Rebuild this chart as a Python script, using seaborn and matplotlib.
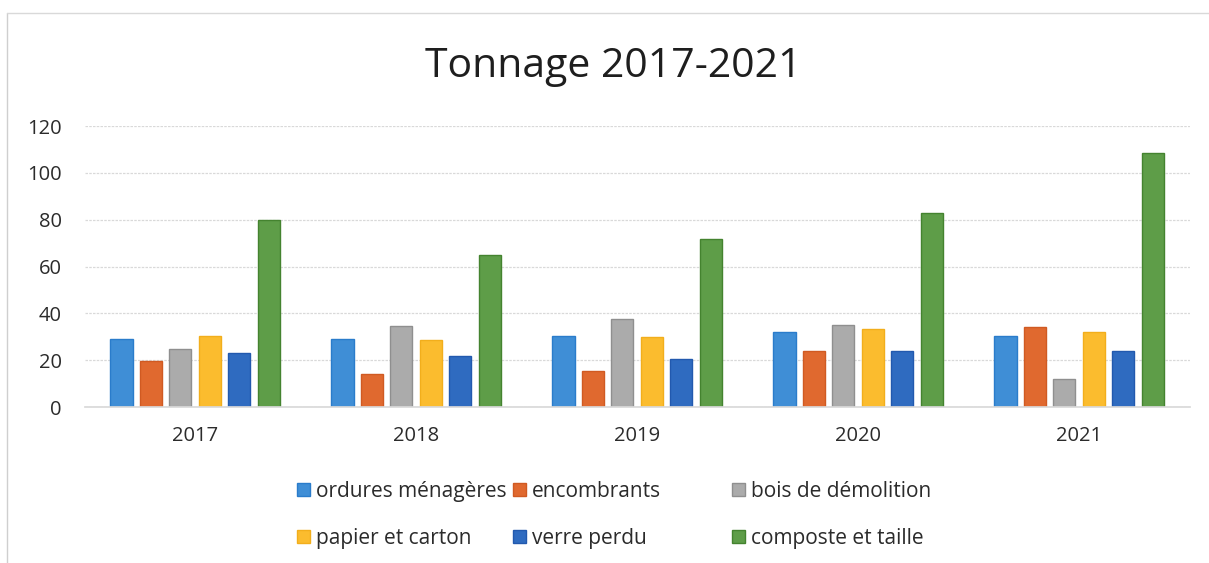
import matplotlib
matplotlib.use("Agg")
import matplotlib.pyplot as plt
import seaborn as sns
import pandas as pd
from matplotlib.lines import Line2D
from matplotlib.patches import Patch

years = ["2017", "2018", "2019", "2020", "2021"]
categories = ["ordures ménagères", "encombrants", "bois de démolition",
              "papier et carton", "verre perdu", "composte et taille"]
ordures = [29.0, 29.0, 30.5, 31.9, 30.3]
encombrants = [19.8, 14.1, 15.2, 24.0, 34.2]
bois = [24.6, 34.6, 37.6, 35.1, 12.0]
papier = [30.3, 28.6, 29.9, 33.4, 32.0]
verre = [23.2, 21.9, 20.6, 24.0, 24.0]
composte = [80.1, 65.0, 71.6, 83.0, 108.7]

colors = ["#3F8ED6", "#E0692F", "#ABABAB", "#FBBC2E", "#2F6BC0", "#5E9D48"]
edges = ["#2A7CCB", "#D05A22", "#8F8F8F", "#F2AE1C", "#2259AE", "#44832F"]

series = [ordures, encombrants, bois, papier, verre, composte]
rows = []
for cat, vals in zip(categories, series):
    for y, v in zip(years, vals):
        rows.append({"year": y, "cat": cat, "value": v})
df = pd.DataFrame(rows)

sns.set_theme(style="white")
plt.rcParams["font.family"] = ["Open Sans", "DejaVu Sans"]

fig = plt.figure(figsize=(12.09, 5.63), dpi=100)
ax = fig.add_axes([0.070, 0.277, 0.914, 0.499])

sns.barplot(data=df, x="year", y="value", hue="cat", order=years,
            hue_order=categories, palette=colors, saturation=1,
            width=0.8, gap=0.25, ax=ax, legend=False)

n = len(years)
for i, patch in enumerate(ax.patches[:n * len(categories)]):
    patch.set_edgecolor(edges[i // n])
    patch.set_linewidth(1.0)

ax.set_ylim(0, 120)
ax.set_yticks(range(0, 121, 20))
ax.set_xlim(-0.5, 4.5)
ax.yaxis.grid(True, color="#D9D9D9", linewidth=0.9, linestyle=(0, (2, 1)))
ax.set_axisbelow(True)
for s in ["top", "right", "left"]:
    ax.spines[s].set_visible(False)
ax.spines["bottom"].set_color("#D9D9D9")
ax.set_xlabel("")
ax.set_ylabel("")
ax.tick_params(axis="both", length=0, labelsize=14.5, colors="#2B2B2B")
ax.tick_params(axis="y", pad=16.5)
ax.tick_params(axis="x", pad=14)

fig.text(0.507, 1 - 77 / 563, "Tonnage 2017-2021", ha="center",
         va="baseline", fontsize=29.5, color="#1E1E1E")

# legend: three columns placed like the original
handles = [Patch(facecolor=c, edgecolor=e, label=l)
           for c, e, l in zip(colors, edges, categories)]
col_x = [297, 513, 732]
for k in range(3):
    idx = [k, k + 3]
    leg = fig.legend([handles[i] for i in idx], [categories[i] for i in idx],
                     ncol=1, loc="center left",
                     bbox_to_anchor=(col_x[k] / 1209, 1 - 515 / 563),
                     frameon=False, fontsize=15, handlelength=0.6,
                     handleheight=0.6, handletextpad=0.3, labelspacing=1.25,
                     borderpad=0, borderaxespad=0, labelcolor="#2B2B2B")

# chart border (left and top edges visible)
fig.add_artist(Line2D([7 / 1209, 7 / 1209], [0, 1 - 13 / 563],
                      transform=fig.transFigure, color="#CFCFCF", linewidth=1))
fig.add_artist(Line2D([7 / 1209, 1], [1 - 13 / 563, 1 - 13 / 563],
                      transform=fig.transFigure, color="#D9D9D9", linewidth=1))

fig.savefig("out.png", dpi=100, facecolor="white")
